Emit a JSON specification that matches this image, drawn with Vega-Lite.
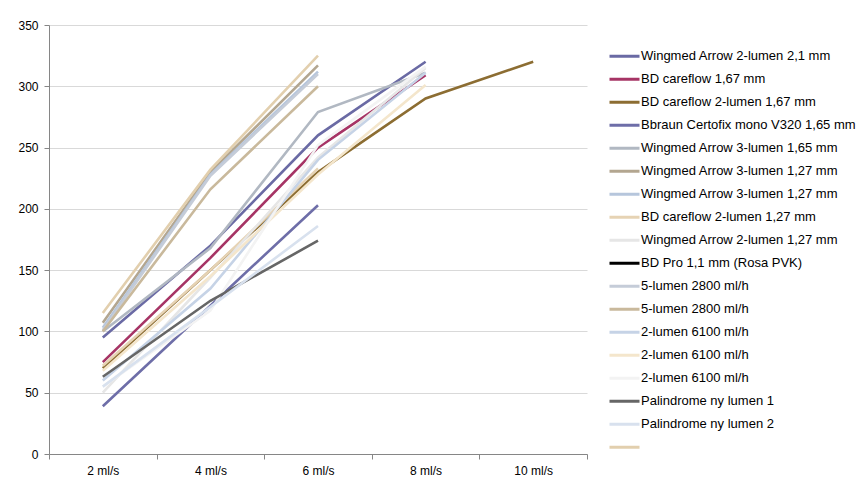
{
  "$schema": "https://vega.github.io/schema/vega-lite/v6.json",
  "autosize": {"type": "none"},
  "padding": {"left": 49, "top": 25, "right": 274, "bottom": 25},
  "width": 538,
  "height": 429,
  "background": "white",
  "config": {
    "view": {"stroke": null},
    "font": "Liberation Sans",
    "axis": {"labelFont": "Liberation Sans", "labelFontSize": 12, "labelColor": "#000000", "domainColor": "#868686", "tickColor": "#868686", "gridColor": "#d9d9d9", "title": null}
  },
  "data": {
    "values": [
      {"series": "Wingmed Arrow 2-lumen 2,1 mm", "rate": "2 ml/s", "value": 95},
      {"series": "Wingmed Arrow 2-lumen 2,1 mm", "rate": "4 ml/s", "value": 170},
      {"series": "Wingmed Arrow 2-lumen 2,1 mm", "rate": "6 ml/s", "value": 260},
      {"series": "Wingmed Arrow 2-lumen 2,1 mm", "rate": "8 ml/s", "value": 320},
      {"series": "BD careflow 1,67 mm", "rate": "2 ml/s", "value": 75},
      {"series": "BD careflow 1,67 mm", "rate": "4 ml/s", "value": 160},
      {"series": "BD careflow 1,67 mm", "rate": "6 ml/s", "value": 250},
      {"series": "BD careflow 1,67 mm", "rate": "8 ml/s", "value": 309},
      {"series": "BD careflow 2-lumen 1,67 mm", "rate": "2 ml/s", "value": 70},
      {"series": "BD careflow 2-lumen 1,67 mm", "rate": "4 ml/s", "value": 150},
      {"series": "BD careflow 2-lumen 1,67 mm", "rate": "6 ml/s", "value": 230},
      {"series": "BD careflow 2-lumen 1,67 mm", "rate": "8 ml/s", "value": 290},
      {"series": "BD careflow 2-lumen 1,67 mm", "rate": "10 ml/s", "value": 320},
      {"series": "Bbraun Certofix mono V320 1,65 mm", "rate": "2 ml/s", "value": 39},
      {"series": "Bbraun Certofix mono V320 1,65 mm", "rate": "4 ml/s", "value": 121},
      {"series": "Bbraun Certofix mono V320 1,65 mm", "rate": "6 ml/s", "value": 203},
      {"series": "Wingmed Arrow 3-lumen 1,65 mm", "rate": "2 ml/s", "value": 100},
      {"series": "Wingmed Arrow 3-lumen 1,65 mm", "rate": "4 ml/s", "value": 168},
      {"series": "Wingmed Arrow 3-lumen 1,65 mm", "rate": "6 ml/s", "value": 279},
      {"series": "Wingmed Arrow 3-lumen 1,65 mm", "rate": "8 ml/s", "value": 311},
      {"series": "Wingmed Arrow 3-lumen 1,27 mm", "rate": "2 ml/s", "value": 107},
      {"series": "Wingmed Arrow 3-lumen 1,27 mm", "rate": "4 ml/s", "value": 230},
      {"series": "Wingmed Arrow 3-lumen 1,27 mm", "rate": "6 ml/s", "value": 317},
      {"series": "Wingmed Arrow 3-lumen 1,27 mm ", "rate": "2 ml/s", "value": 103},
      {"series": "Wingmed Arrow 3-lumen 1,27 mm ", "rate": "4 ml/s", "value": 228},
      {"series": "Wingmed Arrow 3-lumen 1,27 mm ", "rate": "6 ml/s", "value": 312},
      {"series": "BD careflow 2-lumen 1,27 mm", "rate": "2 ml/s", "value": 72},
      {"series": "BD careflow 2-lumen 1,27 mm", "rate": "4 ml/s", "value": 150},
      {"series": "BD careflow 2-lumen 1,27 mm", "rate": "6 ml/s", "value": 233},
      {"series": "Wingmed Arrow 2-lumen 1,27 mm", "rate": "2 ml/s", "value": 50},
      {"series": "Wingmed Arrow 2-lumen 1,27 mm", "rate": "4 ml/s", "value": 144},
      {"series": "Wingmed Arrow 2-lumen 1,27 mm", "rate": "6 ml/s", "value": 242},
      {"series": "Wingmed Arrow 2-lumen 1,27 mm", "rate": "8 ml/s", "value": 315},
      {"series": "5-lumen 2800 ml/h", "rate": "2 ml/s", "value": 101},
      {"series": "5-lumen 2800 ml/h", "rate": "4 ml/s", "value": 227},
      {"series": "5-lumen 2800 ml/h", "rate": "6 ml/s", "value": 310},
      {"series": "5-lumen 2800 ml/h ", "rate": "2 ml/s", "value": 100},
      {"series": "5-lumen 2800 ml/h ", "rate": "4 ml/s", "value": 216},
      {"series": "5-lumen 2800 ml/h ", "rate": "6 ml/s", "value": 300},
      {"series": "2-lumen 6100 ml/h", "rate": "2 ml/s", "value": 60},
      {"series": "2-lumen 6100 ml/h", "rate": "4 ml/s", "value": 135},
      {"series": "2-lumen 6100 ml/h", "rate": "6 ml/s", "value": 240},
      {"series": "2-lumen 6100 ml/h", "rate": "8 ml/s", "value": 311},
      {"series": "2-lumen 6100 ml/h ", "rate": "2 ml/s", "value": 68},
      {"series": "2-lumen 6100 ml/h ", "rate": "4 ml/s", "value": 145},
      {"series": "2-lumen 6100 ml/h ", "rate": "6 ml/s", "value": 228},
      {"series": "2-lumen 6100 ml/h ", "rate": "8 ml/s", "value": 301},
      {"series": "2-lumen 6100 ml/h  ", "rate": "2 ml/s", "value": 55},
      {"series": "2-lumen 6100 ml/h  ", "rate": "4 ml/s", "value": 117},
      {"series": "2-lumen 6100 ml/h  ", "rate": "6 ml/s", "value": 252},
      {"series": "2-lumen 6100 ml/h  ", "rate": "8 ml/s", "value": 316},
      {"series": "Palindrome ny lumen 1", "rate": "2 ml/s", "value": 63},
      {"series": "Palindrome ny lumen 1", "rate": "4 ml/s", "value": 125},
      {"series": "Palindrome ny lumen 1", "rate": "6 ml/s", "value": 174},
      {"series": "Palindrome ny lumen 2", "rate": "2 ml/s", "value": 55},
      {"series": "Palindrome ny lumen 2", "rate": "4 ml/s", "value": 120},
      {"series": "Palindrome ny lumen 2", "rate": "6 ml/s", "value": 186},
      {"series": "   ", "rate": "2 ml/s", "value": 115},
      {"series": "   ", "rate": "4 ml/s", "value": 232},
      {"series": "   ", "rate": "6 ml/s", "value": 325}
    ]
  },
  "mark": {"type": "line", "strokeWidth": 2.6},
  "encoding": {
    "x": {
      "field": "rate",
      "type": "ordinal",
      "sort": ["2 ml/s", "4 ml/s", "6 ml/s", "8 ml/s", "10 ml/s"],
      "scale": {"type": "band", "domain": ["2 ml/s", "4 ml/s", "6 ml/s", "8 ml/s", "10 ml/s"], "paddingInner": 0, "paddingOuter": 0},
      "axis": {"labelAngle": 0, "tickBand": "extent", "tickSize": 5, "labelPadding": 6, "grid": false}
    },
    "y": {
      "field": "value",
      "type": "quantitative",
      "scale": {"domain": [0, 350], "nice": false},
      "axis": {"values": [0, 50, 100, 150, 200, 250, 300, 350], "tickSize": 5, "labelPadding": 6, "grid": true}
    },
    "color": {
      "field": "series",
      "type": "nominal",
      "sort": null,
      "scale": {
        "domain": ["Wingmed Arrow 2-lumen 2,1 mm", "BD careflow 1,67 mm", "BD careflow 2-lumen 1,67 mm", "Bbraun Certofix mono V320 1,65 mm", "Wingmed Arrow 3-lumen 1,65 mm", "Wingmed Arrow 3-lumen 1,27 mm", "Wingmed Arrow 3-lumen 1,27 mm ", "BD careflow 2-lumen 1,27 mm", "Wingmed Arrow 2-lumen 1,27 mm", "BD Pro 1,1 mm (Rosa PVK)", "5-lumen 2800 ml/h", "5-lumen 2800 ml/h ", "2-lumen 6100 ml/h", "2-lumen 6100 ml/h ", "2-lumen 6100 ml/h  ", "Palindrome ny lumen 1", "Palindrome ny lumen 2", "   "],
        "range": ["#6a6aa4", "#a63465", "#8c6d32", "#6e6ea8", "#b1b8c2", "#b3a690", "#b6c6dc", "#e6d3b4", "#e6e6e6", "#000000", "#c5ccd8", "#c9b99c", "#c6d3e6", "#f4e6cc", "#f3f3f3", "#666666", "#d8e1ee", "#e2cfae"]
      },
      "legend": {
        "title": null,
        "orient": "none",
        "legendX": 559,
        "legendY": 20,
        "symbolType": "stroke",
        "symbolSize": 900,
        "symbolStrokeWidth": 3,
        "labelFont": "Liberation Sans",
        "labelFontSize": 13,
        "labelColor": "#000000",
        "labelOffset": 0,
        "rowPadding": 0,
        "clipHeight": 22.5,
        "labelLimit": 300
      }
    }
  }
}
